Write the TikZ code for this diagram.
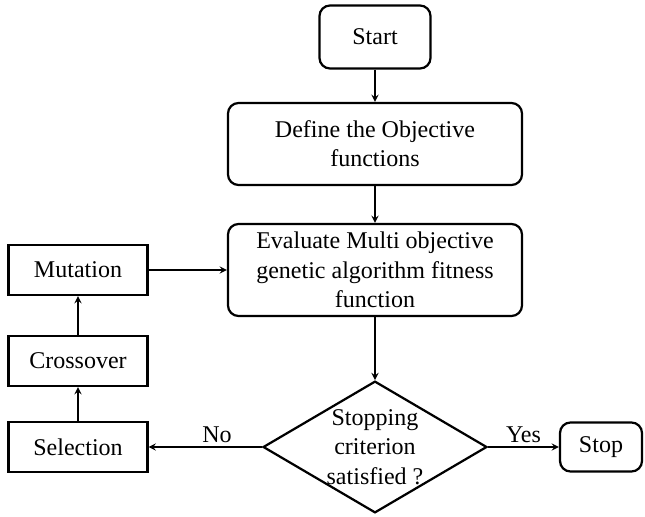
\documentclass[tikz,border=0pt]{standalone}
\usepackage{fontspec}
\setmainfont{Liberation Serif}
\usetikzlibrary{shapes.geometric}

\begin{document}
\begin{tikzpicture}[x=0.03cm,y=-0.03cm,>=stealth,
 every node/.style={font=\fontsize{20.5}{25}\selectfont,inner sep=2pt},
 rbox/.style={draw=black,rounded corners=9pt,align=center,line width=1.9pt},
 sbox/.style={draw=black,align=center,line width=1.9pt,minimum width=4.17cm,minimum height=1.5cm},
 decide/.style={draw=black,diamond,aspect=1.7,align=center,line width=1.9pt,inner sep=0pt,minimum width=6.7cm,minimum height=3.95cm},
 arr/.style={->,draw=black,line width=1.7pt},
 tag/.style={inner sep=3pt}]
\useasboundingbox (0,0) rectangle (645,517);
\node[rbox,minimum width=3.33cm,minimum height=1.89cm] (start) at (375,37) {Start};
\node[rbox,minimum width=8.82cm,minimum height=2.46cm] (define) at (375,144)
 {Define the Objective\\functions};
\node[rbox,minimum width=8.82cm,minimum height=2.76cm] (eval) at (375,270)
 {Evaluate Multi objective\\genetic algorithm fitness\\function};
\node[decide] (crit) at (375,447) {Stopping\\criterion\\satisfied ?};
\node[rbox,minimum width=2.46cm,minimum height=1.47cm] (stop) at (601,447) {Stop};
\node[sbox] (mutation) at (78,270) {Mutation};
\node[sbox] (crossover) at (78,361) {Crossover};
\node[sbox] (selection) at (78,447) {Selection};
\draw[arr] (start) -- (define);
\draw[arr] (define) -- (eval);
\draw[arr] (eval) -- (crit);
\draw[arr] (crit.east) -- node[tag,above]{Yes} (stop.west);
\draw[arr] (crit.west) -- node[tag,above,xshift=10pt]{No} (selection.east);
\draw[arr] (selection) -- (crossover);
\draw[arr] (crossover) -- (mutation);
\draw[arr] (mutation.east) -- (eval.west);
\end{tikzpicture}
\end{document}
